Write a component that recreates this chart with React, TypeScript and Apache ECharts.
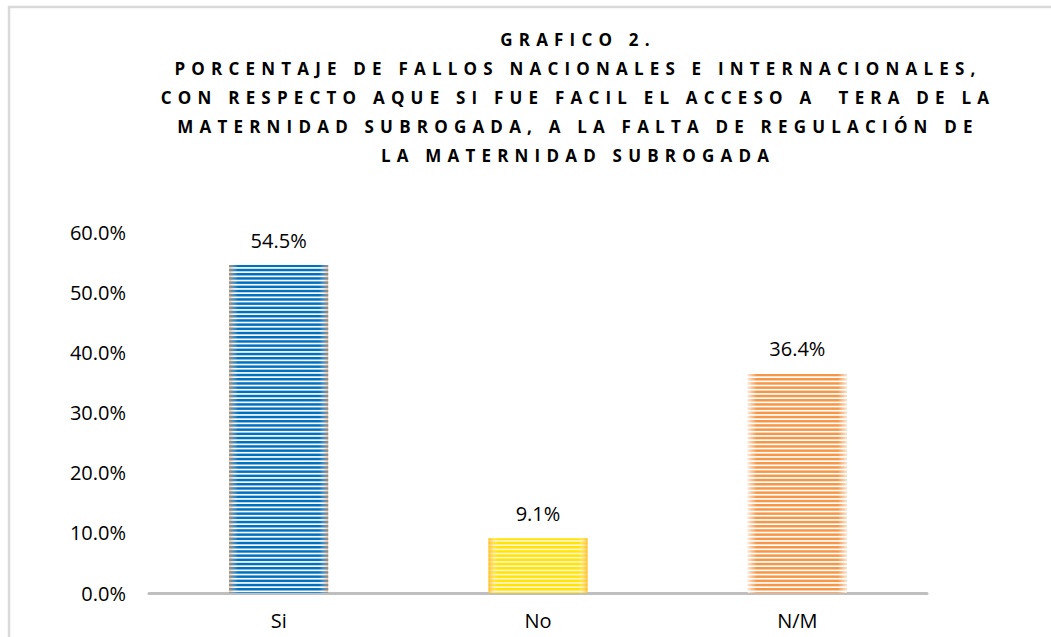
import React, { useEffect, useRef } from 'react';
import * as echarts from 'echarts';

const titleLines = [
  'GRAFICO 2.',
  'PORCENTAJE DE FALLOS NACIONALES E INTERNACIONALES,',
  'CON RESPECTO AQUE SI FUE FACIL EL ACCESO A  TERA DE LA',
  'MATERNIDAD SUBROGADA, A LA FALTA DE REGULACIÓN DE',
  'LA MATERNIDAD SUBROGADA',
];
const categories = ['Si', 'No', 'N/M'];
const values = [54.5, 9.1, 36.4];
const stripeColors = ['#0070C0', '#FFE600', '#F79646'];
const baseColors = ['#FFFFFF', '#FFF1D6', '#FFFFFF'];
const edgeColors = ['rgba(247,160,90,0.6)', 'rgba(255,180,40,0.85)', 'rgba(255,255,255,0.75)'];
const yMin = 0;
const yMax = 60;
const yStep = 10;

const FONT = "'Open Sans', 'Liberation Sans', sans-serif";

function stripes(stripe: string, base: string) {
  const c = document.createElement('canvas');
  c.width = 4;
  c.height = 21;
  const ctx = c.getContext('2d')!;
  ctx.fillStyle = base;
  ctx.fillRect(0, 0, 4, 21);
  ctx.fillStyle = stripe;
  for (let i = 0; i < 5; i++) ctx.fillRect(0, i * 4.2, 4, 2.5);
  return c;
}

export default function App() {
  const mainRef = useRef<HTMLDivElement>(null);
  const titleRef = useRef<HTMLDivElement>(null);

  useEffect(() => {
    const chart = echarts.init(mainRef.current!, null, { renderer: 'svg' });
    const fmt = (v: number) => v.toFixed(1) + '%';
    chart.setOption({
      animation: false,
      backgroundColor: '#fff',
      grid: { left: 149, right: 124, top: 232, bottom: 44, outerBoundsMode: 'none' },
      graphic: [
        {
          type: 'rect',
          silent: true,
          z: -10,
          shape: { x: 9, y: 7, width: 1300, height: 900 },
          style: { fill: 'none', stroke: '#D9D9D9', lineWidth: 2.5 },
        },
      ],
      xAxis: {
        type: 'category',
        data: categories,
        axisLine: { lineStyle: { color: '#BFBFBF', width: 3 } },
        axisTick: { show: false },
        axisLabel: { margin: 17, fontSize: 20, color: '#000', fontFamily: FONT },
      },
      yAxis: {
        type: 'value',
        min: yMin,
        max: yMax,
        interval: yStep,
        axisLine: { show: false },
        axisTick: { show: false },
        splitLine: { show: false },
        axisLabel: { margin: 23, fontSize: 20, color: '#000', fontFamily: FONT, formatter: fmt },
      },
      series: [
        {
          type: 'bar',
          barWidth: 99,
          data: values.map((v, i) => ({
            value: v,
            itemStyle: { color: { image: stripes(stripeColors[i], baseColors[i]), repeat: 'repeat' } },
          })),
          label: {
            show: true,
            position: 'top',
            distance: 15,
            fontSize: 20,
            color: '#000',
            fontFamily: FONT,
            formatter: (p: any) => fmt(p.value),
          },
        },
        {
          type: 'bar',
          barWidth: 99,
          barGap: '-100%',
          silent: true,
          z: 3,
          data: values.map((v, i) => ({
            value: v,
            itemStyle: {
              color: new echarts.graphic.LinearGradient(0, 0, 1, 0, [
                { offset: 0, color: edgeColors[i] },
                { offset: 0.09, color: 'rgba(255,255,255,0)' },
                { offset: 0.91, color: 'rgba(255,255,255,0)' },
                { offset: 1, color: edgeColors[i] },
              ]),
            },
          })),
          label: { show: false },
        },
      ],
    });

    const tchart = echarts.init(titleRef.current!, null, { renderer: 'svg' });
    tchart.setOption({
      animation: false,
      graphic: titleLines.map((t, i) => ({
        type: 'text',
        x: 578,
        y: 39 + i * 29,
        silent: true,
        style: {
          text: t,
          align: 'center',
          verticalAlign: 'middle',
          font: `bold 17px ${FONT}`,
          fill: '#000',
        },
      })),
    });

    return () => {
      chart.dispose();
      tchart.dispose();
    };
  }, []);

  return (
    <div style={{ position: 'absolute', left: 0, top: 0, width: 1051, height: 637, overflow: 'hidden' }}>
      <style>{`.ttl text { letter-spacing: 6.2px; }`}</style>
      <div ref={mainRef} style={{ position: 'absolute', left: 0, top: 0, width: 1051, height: 637 }} />
      <div
        ref={titleRef}
        className="ttl"
        style={{ position: 'absolute', left: 0, top: 0, width: 1051, height: 190, pointerEvents: 'none' }}
      />
    </div>
  );
}
